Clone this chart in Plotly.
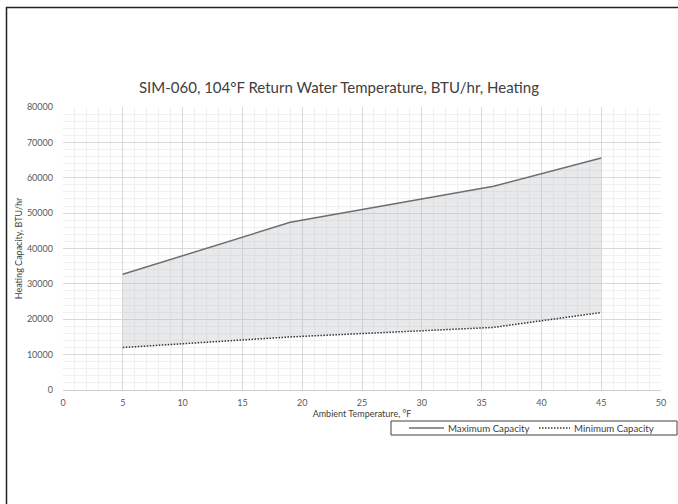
import plotly.graph_objects as go

# Data
ambient_temp = [5, 19, 36, 45]
max_capacity = [32700, 47400, 57600, 65600]
min_capacity = [12000, 15000, 17700, 21900]
x_ticks = [0, 5, 10, 15, 20, 25, 30, 35, 40, 45, 50]
y_ticks = [0, 10000, 20000, 30000, 40000, 50000, 60000, 70000, 80000]
series_names = ["Maximum Capacity", "Minimum Capacity"]

FONT = "Lato, 'Open Sans', sans-serif"
W, H = 678, 504
L, R, T, B = 63, 17, 107, 114
PW, PH = W - L - R, H - T - B

MAX_COLOR = "#6e6e6e"
MIN_COLOR = "#333333"
MIN_DASH = "1.5px,1.5px"

def px_x(px):
    return (px - L) / PW

def px_y(py):
    return (H - B - py) / PH

fig = go.Figure()
fig.add_trace(go.Scatter(
    x=ambient_temp, y=min_capacity, mode="lines", name=series_names[1],
    line=dict(color=MIN_COLOR, width=1.5, dash=MIN_DASH), showlegend=False,
))
fig.add_trace(go.Scatter(
    x=ambient_temp, y=max_capacity, mode="lines", name=series_names[0],
    line=dict(color=MAX_COLOR, width=1.5), fill="tonexty",
    fillcolor="rgba(185,188,195,0.33)", showlegend=False,
))

# outer chart border and legend box drawn in the figure's margin (paper coordinates)
ly = px_y(428)
shapes = [
    dict(type="line", xref="paper", yref="paper",
         x0=px_x(6), x1=px_x(700), y0=px_y(7.5), y1=px_y(7.5),
         line=dict(color="#222222", width=1.5), layer="above"),
    dict(type="line", xref="paper", yref="paper",
         x0=px_x(6.5), x1=px_x(6.5), y0=px_y(530), y1=px_y(7),
         line=dict(color="#222222", width=1.5), layer="above"),
    dict(type="rect", xref="paper", yref="paper",
         x0=px_x(391), x1=px_x(677), y0=px_y(435), y1=px_y(421),
         line=dict(color="#404040", width=1), fillcolor="white"),
    dict(type="line", xref="paper", yref="paper", x0=px_x(409), x1=px_x(444), y0=ly, y1=ly,
         line=dict(color=MAX_COLOR, width=1.5)),
    dict(type="line", xref="paper", yref="paper", x0=px_x(539), x1=px_x(570), y0=ly, y1=ly,
         line=dict(color=MIN_COLOR, width=1.5, dash=MIN_DASH)),
]
annotations = [
    dict(text=series_names[0], xref="paper", yref="paper", x=px_x(446), y=ly,
         xanchor="left", yanchor="middle", showarrow=False,
         font=dict(family=FONT, size=9.7, color="#404040")),
    dict(text=series_names[1], xref="paper", yref="paper", x=px_x(572), y=ly,
         xanchor="left", yanchor="middle", showarrow=False,
         font=dict(family=FONT, size=9.7, color="#404040")),
]

fig.update_layout(
    width=W, height=H,
    margin=dict(l=L, r=R, t=T, b=B, autoexpand=False),
    paper_bgcolor="white", plot_bgcolor="white",
    font=dict(family=FONT, size=9, color="#595959"),
    title=dict(text="SIM-060, 104°F Return Water Temperature, BTU/hr, Heating",
               x=0.5, xanchor="center", xref="container", y=1 - 88 / H, yref="container",
               yanchor="middle", font=dict(family=FONT, size=15, color="#404040")),
    showlegend=False,
    shapes=shapes,
    annotations=annotations,
)

fig.update_xaxes(
    range=[0, 50], tickvals=x_ticks, ticktext=[str(v) for v in x_ticks],
    showgrid=True, gridcolor="#d9d9d9", gridwidth=1,
    minor=dict(dtick=1, showgrid=True, gridcolor="#f0f0f0", gridwidth=1),
    showline=True, linecolor="#d0d0d0", linewidth=1, zeroline=False,
    ticks="", ticklabelstandoff=4,
    title=dict(text="Ambient Temperature, °F", standoff=2,
               font=dict(family=FONT, size=9, color="#404040")),
    automargin=False,
)
fig.update_yaxes(
    range=[0, 80000], tickvals=y_ticks, ticktext=[str(v) for v in y_ticks],
    showgrid=True, gridcolor="#d9d9d9", gridwidth=1,
    minor=dict(dtick=2000, showgrid=True, gridcolor="#f0f0f0", gridwidth=1),
    showline=False, zeroline=False,
    ticks="", ticklabelstandoff=9,
    title=dict(text="Heating Capacity, BTU/hr", standoff=2,
               font=dict(family=FONT, size=9, color="#404040")),
    automargin=False,
)

fig.write_html("out.html", config={"displayModeBar": False},
               post_script="document.body.style.margin='0';")
